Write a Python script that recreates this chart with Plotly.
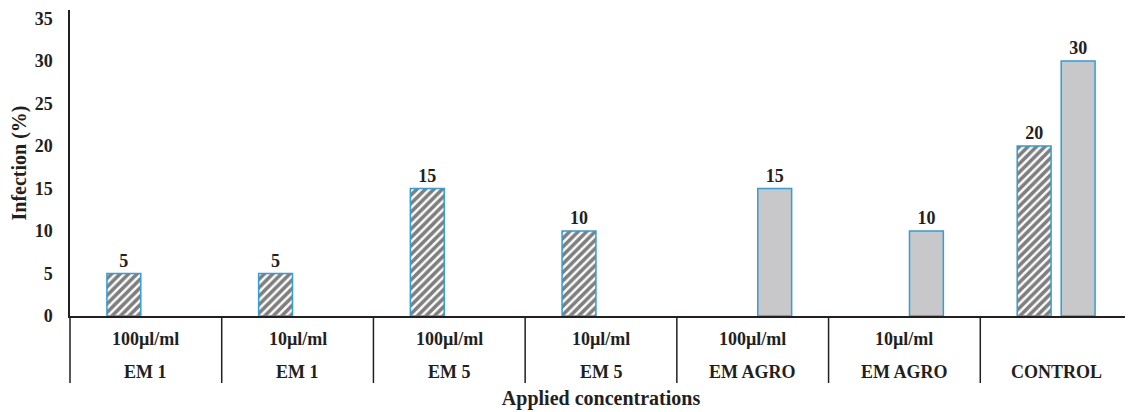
import plotly.graph_objects as go

products = ["EM 1", "EM 1", "EM 5", "EM 5", "EM AGRO", "EM AGRO", "CONTROL"]
concentrations = ["100µl/ml", "10µl/ml", "100µl/ml", "10µl/ml", "100µl/ml", "10µl/ml", ""]
hatched_vals = [5, 5, 15, 10, None, None, 20]
gray_vals = [None, None, None, None, 15, 10, 30]
y_ticks = [0, 5, 10, 15, 20, 25, 30, 35]

FONT = "Liberation Serif"
TXT = "#231f20"
EDGE = "#2e9fd8"

W, H = 1125, 404
M = dict(l=62, r=1, t=2, b=96)
PLOT_H = H - M["t"] - M["b"]

cats = [f"{c} {p}".strip() for p, c in zip(products, concentrations)]

def labels(vals):
    return ["" if v is None else str(v) for v in vals]

def f(size):
    return dict(family=FONT, size=size, color=TXT, weight="bold")

fig = go.Figure()
fig.add_trace(go.Bar(
    x=cats, y=hatched_vals,
    text=labels(hatched_vals), textposition="outside",
    textfont=f(18),
    marker=dict(color="white",
                pattern=dict(shape="/", fgcolor="black", bgcolor="white", size=6, solidity=0.6),
                line=dict(color=EDGE, width=1.5)),
    cliponaxis=False, showlegend=False,
))
fig.add_trace(go.Bar(
    x=cats, y=gray_vals,
    text=labels(gray_vals), textposition="outside",
    textfont=f(18),
    marker=dict(color="#c8c8ca", line=dict(color=EDGE, width=1.5)),
    cliponaxis=False, showlegend=False,
))

# two-level category labels under the axis
for cat, conc, prod in zip(cats, concentrations, products):
    if conc:
        fig.add_annotation(x=cat, xref="x", y=0, yref="paper", yanchor="middle",
                           yshift=-23, text=conc, showarrow=False, font=f(18))
    fig.add_annotation(x=cat, xref="x", y=0, yref="paper", yanchor="middle",
                       yshift=-56, text=prod, showarrow=False, font=f(18))

# group dividers
n = len(cats)
for k in range(n + 1):
    fig.add_shape(type="line", xref="paper", yref="paper",
                  x0=k / n, x1=k / n, y0=0, y1=-67 / PLOT_H,
                  line=dict(color=TXT, width=1.5))

fig.update_layout(
    width=W, height=H, margin=M,
    paper_bgcolor="white", plot_bgcolor="white",
    barmode="group", bargap=0.42, bargroupgap=0.23,
    font=f(18),
    xaxis=dict(
        type="category", automargin=False,
        showline=True, linecolor=TXT, linewidth=1.5,
        showgrid=False, ticks="", showticklabels=False,
        title=dict(text="Applied concentrations", font=f(20), standoff=74),
    ),
    yaxis=dict(
        automargin=False,
        range=[0, 36], tickvals=y_ticks,
        showline=True, linecolor=TXT, linewidth=1.5,
        showgrid=False, zeroline=False, ticks="",
        ticklabelstandoff=12,
        tickfont=f(18),
        title=dict(text="Infection (%)", font=f(20), standoff=14),
    ),
)
fig.write_html("out.html")
